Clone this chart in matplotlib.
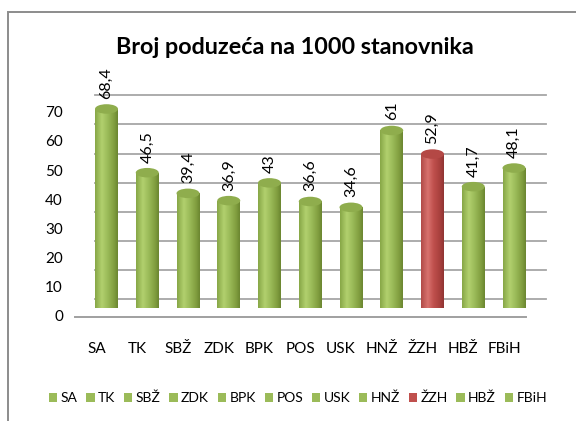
import numpy as np
import matplotlib
matplotlib.use("Agg")
import matplotlib.pyplot as plt
import matplotlib.transforms as mtransforms
from matplotlib.patches import Rectangle, Ellipse, Patch
from matplotlib.colors import LinearSegmentedColormap
from matplotlib.lines import Line2D

# ---------------- data ----------------
categories = ["SA", "TK", "SBŽ", "ZDK", "BPK", "POS", "USK", "HNŽ", "ŽZH", "HBŽ", "FBiH"]
values = [68.4, 46.5, 39.4, 36.9, 43.0, 36.6, 34.6, 61.0, 52.9, 41.7, 48.1]
value_labels = ["68,4", "46,5", "39,4", "36,9", "43", "36,6", "34,6", "61", "52,9", "41,7", "48,1"]
highlight = "ŽZH"
y_ticks = [0, 10, 20, 30, 40, 50, 60, 70]
title = "Broj poduzeća na 1000 stanovnika"

# ---------------- style ----------------
W, H, DPI = 576, 421, 100
FONT = "Lato"
green_stops = ["#86a646", "#b2d06e", "#9bbb59", "#7f9c3e", "#6a8530"]
red_stops = ["#b04a47", "#d8726e", "#c0504d", "#a63f3c", "#8e3432"]
green_top = "#8fad4d"
red_top = "#b44845"
grid_col = "#a6a6a6"

fig = plt.figure(figsize=(W / DPI, H / DPI), dpi=DPI)
fig.patch.set_facecolor("white")

# frame around the chart (extends beyond the image at right/bottom)
fig.patches.append(Rectangle((8 / W, 0 - 20 / H), 2.0, (H - 12 + 20) / H,
                             transform=fig.transFigure, fill=False,
                             edgecolor="#8c8c8c", lw=1.4, zorder=0))

# axes = the mid-depth plane in which the cylinders stand
n = len(categories)
px_per_cat = 40.75
px_per_unit = 2.91
x0_px = 106.5 - 0.5 * px_per_cat
y0_px = H - 308
ax = fig.add_axes([x0_px / W, y0_px / H, n * px_per_cat / W, 70 * px_per_unit / H])
ax.set_axis_off()


def off(dx, dy):
    return ax.transData + mtransforms.ScaledTranslation(dx / DPI, dy / DPI, fig.dpi_scale_trans)


DEPTH = (10, 9)  # pixel offset from mid plane to the back wall
back = off(*DEPTH)
front = off(-DEPTH[0], -DEPTH[1])
xl, xr = -0.53, n - 1 + 0.53

# gridlines on the back wall
for t in y_ticks:
    ax.plot([xl, xr], [t, t], color=grid_col, lw=1.3, transform=back, clip_on=False, zorder=1)
    # slanted tick line on the left wall
    p_front = front.transform((xl, t))
    p_back = back.transform((xl, t))
    fig.add_artist(Line2D([p_front[0] / W, p_back[0] / W], [p_front[1] / H, p_back[1] / H],
                          transform=fig.transFigure, color=grid_col, lw=1.1, zorder=1))
    ax.text(xl, t, str(t), transform=off(-DEPTH[0] - 12, -DEPTH[1]), ha="right", va="center",
            fontsize=11, family=FONT, color="#000000")

# floor front edge and right edge
ax.plot([xl, xr], [0, 0], color="#a0a0a0", lw=1.4, transform=front, clip_on=False, zorder=1)
pf = front.transform((xr, 0))
pb = back.transform((xr, 0))
fig.add_artist(Line2D([pf[0] / W, pb[0] / W], [pf[1] / H, pb[1] / H],
                      transform=fig.transFigure, color="#a0a0a0", lw=1.2, zorder=1))

# cylinders
bw = 23 / px_per_cat
eh = 9.5 / px_per_unit
grad = np.linspace(0, 1, 256).reshape(1, -1)
for i, (cat, v) in enumerate(zip(categories, values)):
    stops = red_stops if cat == highlight else green_stops
    cmap = LinearSegmentedColormap.from_list("c%d" % i, list(zip([0, 0.3, 0.55, 0.85, 1.0], stops)))
    topc = red_top if cat == highlight else green_top
    body = Rectangle((i - bw / 2, 0), bw, v, transform=ax.transData)
    bottom = Ellipse((i, 0), bw, eh, transform=ax.transData)
    for clip in (bottom, body):
        im = ax.imshow(grad, cmap=cmap, aspect="auto", extent=(i - bw / 2, i + bw / 2, -eh, v),
                       zorder=3, interpolation="bilinear")
        im.set_clip_path(clip)
    top = Ellipse((i, v), bw, eh, facecolor=topc, edgecolor="none", zorder=4)
    ax.add_patch(top)
    ax.text(i, v, value_labels[i], transform=off(0, 10), rotation=90, ha="center", va="bottom",
            fontsize=11.5, family=FONT, color="#000000", zorder=5)
    ax.text(i, 0, cat, transform=off(-DEPTH[0], -41), ha="center", va="center",
            fontsize=11, family=FONT, color="#000000")

ax.set_xlim(-0.5, n - 0.5)
ax.set_ylim(0, 70)

fig.text(295 / W, 1 - 48 / H, title, ha="center", va="center", fontsize=16.8,
         family=FONT, fontweight="bold", color="#000000")

handles = [Patch(facecolor=("#c0504d" if c == highlight else "#9bbb59"), edgecolor="none", label=c)
           for c in categories]
fig.legend(handles=handles, loc="center", bbox_to_anchor=(298 / W, 1 - 398 / H), ncol=n,
           frameon=False, handlelength=0.6, handleheight=0.6, handletextpad=0.25,
           columnspacing=0.62, prop={"family": FONT, "size": 10}, borderaxespad=0)

fig.savefig("out.png", dpi=DPI, facecolor="white")
